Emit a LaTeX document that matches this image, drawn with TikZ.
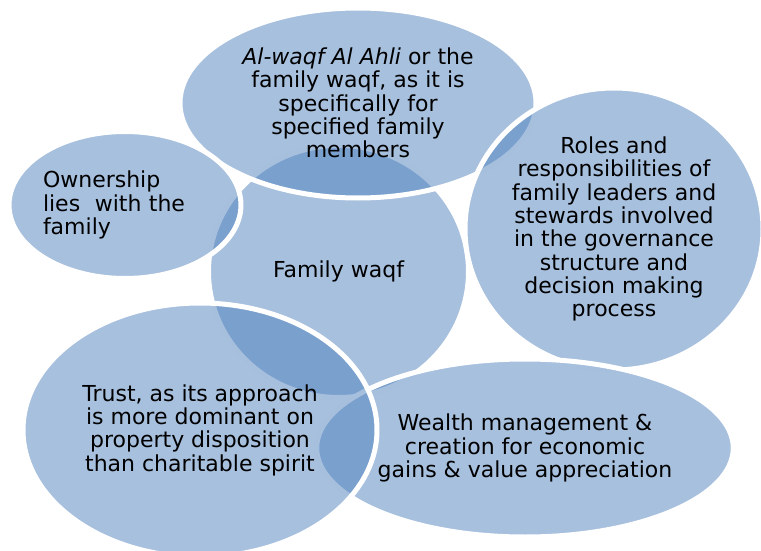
\documentclass[tikz,border=0pt]{standalone}
\usepackage{fontspec}
\setmainfont{DejaVu Sans}
\usepackage{xcolor}
\usetikzlibrary{shapes.geometric}
\definecolor{waqfblue}{RGB}{79,129,189}

\begin{document}
\begin{tikzpicture}[x=1pt,y=-1pt,
		bubble/.style={ellipse,inner sep=0pt,fill=waqfblue,fill opacity=0.5,text opacity=1,
			draw=white,line width=5pt,align=center,font=\fontsize{22}{23.3}\selectfont}]
			\useasboundingbox (0,0) rectangle (761,551);
			\node[bubble,minimum width=260pt,minimum height=252pt] (fam) at (338.5,271.5) {Family waqf};
			\node[bubble,minimum width=356pt,minimum height=190pt] (ahli) at (358,103)
				{\textit{Al-waqf Al Ahli} or the\\family waqf, as it is\\specifically for\\specified family\\members};
			\node[bubble,minimum width=226pt,minimum height=147pt,align=left,text width=164pt] (own) at (125,205)
				{Ownership\\lies~ with the\\family};
			\node[bubble,minimum width=298pt,minimum height=282pt] (roles) at (614,229)
				{Roles and\\responsibilities of\\family leaders and\\stewards involved\\in the governance\\structure and\\decision making\\process};
			\node[bubble,minimum width=416pt,minimum height=178pt] (wealth) at (525,448)
				{Wealth management \&\\creation for economic\\gains \& value appreciation};
			\node[bubble,minimum width=354pt,minimum height=254pt] (trust) at (200,430)
				{Trust, as its approach\\is more dominant on\\property disposition\\than charitable spirit};
			\end{tikzpicture}
\end{document}
